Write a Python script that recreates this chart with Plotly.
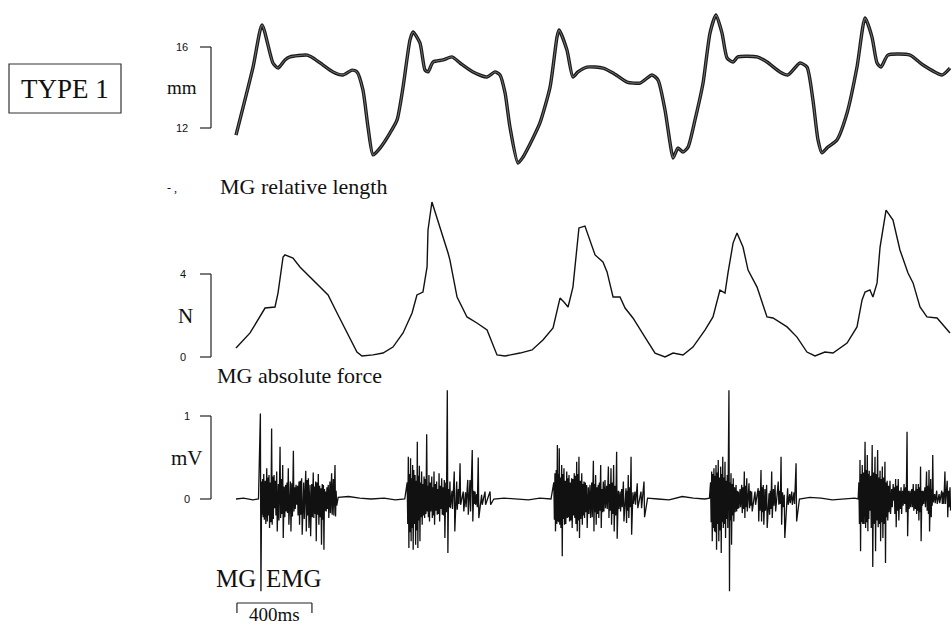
import plotly.graph_objects as go

# ---------------- data (time in ms, t=0 at trace start) ----------------
len_t = [0, 91, 139, 197, 224, 261, 288, 379, 411, 464, 517, 571, 619, 645, 677, 704, 731, 768, 821, 859,
         891, 928, 944, 981, 1008, 1024, 1051, 1104, 1152, 1195, 1264, 1339, 1381, 1408, 1435, 1461, 1504,
         1531, 1579, 1621, 1675, 1712, 1723, 1765, 1797, 1824, 1872, 1957, 2011, 2085, 2155, 2219, 2251,
         2288, 2315, 2331, 2357, 2384, 2411, 2448, 2491, 2528, 2560, 2592, 2619, 2651, 2677, 2779, 2832,
         2901, 2944, 3008, 3045, 3077, 3104, 3125, 3157, 3205, 3259, 3312, 3355, 3392, 3419, 3440, 3477,
         3595, 3664, 3765, 3808]
len_mm = [11.65, 15.01, 17.09, 15.21, 14.96, 15.36, 15.51, 15.60, 15.46, 15.11, 14.77, 14.62, 14.86, 14.77,
          13.88, 12.05, 10.67, 11.01, 11.75, 12.40, 14.02, 16.35, 16.74, 16.20, 14.86, 14.77, 15.26, 15.36,
          15.51, 15.21, 14.77, 14.52, 14.77, 14.62, 13.73, 12.05, 10.27, 10.57, 11.41, 12.25, 14.02, 16.49,
          16.84, 15.85, 14.52, 14.77, 15.01, 14.96, 14.72, 14.27, 14.22, 14.62, 14.37, 12.89, 11.26, 10.52,
          11.01, 10.81, 11.06, 12.40, 14.22, 16.69, 17.58, 16.69, 15.46, 15.26, 15.51, 15.51, 15.26, 14.77,
          14.62, 15.21, 15.01, 13.38, 11.41, 10.77, 11.06, 11.41, 12.74, 15.01, 17.43, 16.49, 15.21, 15.01,
          15.60, 15.60, 15.11, 14.62, 14.96]

force_t = [0, 75, 155, 208, 224, 251, 261, 304, 341, 395, 464, 491, 539, 592, 645, 672, 731, 784, 837, 891,
           939, 965, 997, 1019, 1024, 1045, 1088, 1131, 1141, 1179, 1232, 1285, 1339, 1392, 1435, 1515, 1579,
           1637, 1691, 1712, 1728, 1749, 1771, 1797, 1829, 1861, 1915, 1957, 1979, 2011, 2048, 2075, 2117,
           2181, 2235, 2288, 2331, 2384, 2437, 2501, 2544, 2581, 2608, 2624, 2651, 2672, 2704, 2731, 2779,
           2832, 2864, 2939, 2992, 3045, 3088, 3141, 3184, 3259, 3312, 3339, 3355, 3381, 3397, 3419, 3435,
           3467, 3504, 3541, 3584, 3611, 3648, 3685, 3739, 3808]
force_n = [0.43, 1.16, 2.36, 2.41, 3.08, 4.82, 4.92, 4.77, 4.34, 3.86, 3.23, 2.99, 2.12, 1.16, 0.24, 0.05,
           0.10, 0.19, 0.48, 1.16, 2.12, 2.99, 3.13, 4.34, 6.12, 7.47, 6.27, 5.01, 4.67, 2.89, 1.93, 1.64,
           1.30, 0.10, 0.05, 0.19, 0.34, 0.82, 1.40, 2.27, 2.84, 2.65, 2.41, 3.37, 6.22, 6.31, 4.92, 4.58,
           4.10, 2.89, 2.89, 2.36, 1.88, 0.96, 0.19, 0.00, 0.19, 0.10, 0.48, 1.30, 1.93, 3.23, 3.08, 4.05,
           5.49, 5.98, 5.30, 4.19, 3.37, 1.93, 1.88, 1.45, 0.96, 0.24, 0.05, 0.24, 0.19, 0.67, 1.45, 2.75,
           3.13, 3.23, 2.89, 3.57, 5.30, 7.08, 6.60, 5.16, 4.05, 3.57, 2.41, 1.93, 1.88, 1.16]

# EMG: large spikes (time, positive peak, negative peak) in mV
emg_spike_t = [130, 137, 148, 164, 176, 190, 203, 217, 235, 249, 265, 279, 290, 306, 320, 336, 350, 372, 386,
               395, 412, 425, 439, 453, 466, 478, 492, 510, 528,
               919, 931, 942, 955, 967, 978, 990, 1003, 1017, 1029, 1044, 1056, 1070, 1083, 1097, 1111, 1127,
               1141, 1164, 1177, 1195, 1212, 1236, 1248, 1260, 1275, 1292, 1310, 1328, 1355,
               1701, 1714, 1724, 1737, 1749, 1764, 1776, 1790, 1804, 1817, 1829, 1844, 1856, 1870, 1888, 1906,
               1918, 1932, 1945, 1959, 1968, 1986, 2000, 2014, 2030, 2048, 2066, 2080, 2092, 2107, 2128, 2140,
               2160, 2176,
               2537, 2549, 2560, 2572, 2585, 2596, 2608, 2620, 2629, 2640, 2652, 2667, 2679, 2697, 2711, 2724,
               2736, 2750, 2768, 2785, 2800, 2812, 2830, 2843, 2857, 2875, 2892, 2907, 2924, 2942, 2964, 2987,
               3328, 3340, 3355, 3367, 3377, 3393, 3408, 3422, 3435, 3447, 3461, 3473, 3488, 3505, 3518, 3532,
               3547, 3563, 3579, 3595, 3612, 3627, 3639, 3651, 3665, 3683, 3696, 3705, 3716, 3737, 3764, 3781,
               3793, 3808]
emg_spike_up = [1.03, 0.21, 0.30, 0.37, 0.29, 0.85, 0.29, 0.33, 0.63, 0.41, 0.17, 0.37, 0.21, 0.58, 0.17,
                0.21, 0.25, 0.34, 0.25, 0.17, 0.32, 0.21, 0.30, 0.13, 0.17, 0.09, 0.17, 0.31, 0.41,
                0.51, 0.49, 0.41, 0.29, 0.69, 0.40, 0.33, 0.27, 0.78, 0.29, 0.27, 0.33, 0.21, 0.31, 0.25, 0.23,
                1.31, 0.21, 0.33, 0.21, 0.43, 0.09, 0.23, 0.23, 0.59, 0.09, 0.50, 0.05, 0.09, 0.09,
                0.31, 0.65, 0.61, 0.41, 0.37, 0.33, 0.29, 0.25, 0.31, 0.45, 0.51, 0.31, 0.21, 0.17, 0.17, 0.46,
                0.29, 0.17, 0.41, 0.21, 0.23, 0.39, 0.37, 0.41, 0.57, 0.09, 0.21, 0.13, 0.29, 0.51, 0.09, 0.19,
                0.09, 0.21,
                0.33, 0.37, 0.41, 0.47, 0.39, 0.51, 0.45, 0.29, 1.31, 0.31, 0.25, 0.17, 0.09, 0.17, 0.33, 0.25,
                0.19, 0.09, 0.09, 0.13, 0.35, 0.17, 0.17, 0.07, 0.33, 0.17, 0.21, 0.51, 0.05, 0.13, 0.09, 0.43,
                0.47, 0.41, 0.69, 0.53, 0.34, 0.65, 0.51, 0.59, 0.34, 0.39, 0.45, 0.22, 0.22, 0.18, 0.24, 0.24,
                0.14, 0.18, 0.81, 0.10, 0.18, 0.18, 0.18, 0.39, 0.10, 0.33, 0.35, 0.24, 0.53, 0.10, 0.10, 0.33,
                0.22, 0.14]
emg_spike_down = [-1.11, -0.19, -0.25, -0.27, -0.35, -0.31, -0.11, -0.39, -0.23, -0.47, -0.15, -0.31, -0.39,
                  -0.15, -0.07, -0.31, -0.43, -0.39, -0.35, -0.45, -0.23, -0.51, -0.31, -0.55, -0.61, -0.15,
                  -0.23, -0.19, -0.21,
                  -0.59, -0.51, -0.61, -0.55, -0.59, -0.51, -0.31, -0.23, -0.15, -0.27, -0.23, -0.31, -0.19,
                  -0.27, -0.19, -0.47, -0.65, -0.11, -0.39, -0.13, -0.07, -0.15, -0.19, -0.15, -0.27, -0.07,
                  -0.23, -0.07, -0.07, -0.07,
                  -0.39, -0.27, -0.31, -0.69, -0.31, -0.23, -0.27, -0.35, -0.23, -0.39, -0.47, -0.31, -0.23,
                  -0.35, -0.23, -0.39, -0.31, -0.23, -0.35, -0.15, -0.11, -0.23, -0.31, -0.39, -0.48, -0.15,
                  -0.27, -0.29, -0.23, -0.43, -0.07, -0.11, -0.11, -0.22,
                  -0.51, -0.39, -0.61, -0.51, -0.65, -0.35, -0.47, -0.35, -1.11, -0.55, -0.27, -0.15, -0.11,
                  -0.17, -0.23, -0.15, -0.11, -0.15, -0.07, -0.27, -0.27, -0.31, -0.35, -0.19, -0.23, -0.15,
                  -0.07, -0.31, -0.47, -0.07, -0.07, -0.27,
                  -0.63, -0.30, -0.35, -0.39, -0.14, -0.82, -0.63, -0.34, -0.51, -0.47, -0.77, -0.26, -0.18,
                  -0.02, -0.34, -0.26, -0.18, -0.06, -0.45, -0.10, -0.14, -0.18, -0.26, -0.51, -0.06, -0.14,
                  -0.39, -0.22, -0.04, -0.06, -0.06, -0.06, -0.22, -0.14]

# EMG: dense small activity inside the bursts
emg_core_t = [142, 156, 170, 183, 196, 210, 226, 242, 257, 272, 298, 313, 328, 343, 361, 379, 404, 418, 432,
              446, 460, 472, 485, 501, 519, 534,
              913, 925, 936, 948, 961, 972, 984, 996, 1010, 1023, 1036, 1050, 1063, 1077, 1090, 1104, 1119,
              1134, 1152, 1186, 1224, 1268, 1284,
              1695, 1708, 1719, 1730, 1743, 1756, 1770, 1783, 1797, 1810, 1823, 1836, 1850, 1863, 1879, 1897,
              1912, 1925, 1938, 1952, 1977, 1993, 2007, 2022, 2039, 2057, 2086, 2100, 2117,
              2531, 2543, 2554, 2566, 2578, 2590, 2602, 2614, 2634, 2646, 2659, 2673, 2688, 2704, 2717, 2743,
              2792, 2806, 2821, 2850, 2866, 2900, 2915, 2953, 2976,
              3322, 3334, 3347, 3361, 3372, 3385, 3400, 3415, 3428, 3441, 3454, 3467, 3480, 3497, 3511, 3525,
              3540, 3555, 3571, 3587, 3604, 3620, 3633, 3645, 3658, 3674, 3690, 3710, 3726, 3750, 3772, 3800]
emg_core_up = [0.24, 0.22, 0.26, 0.20, 0.27, 0.22, 0.18, 0.24, 0.15, 0.20, 0.19, 0.14, 0.16, 0.22, 0.20, 0.23,
               0.18, 0.15, 0.20, 0.16, 0.18, 0.12, 0.14, 0.21, 0.24, 0.10,
               0.20, 0.30, 0.25, 0.35, 0.22, 0.28, 0.20, 0.18, 0.24, 0.16, 0.20, 0.14, 0.18, 0.12, 0.16, 0.14,
               0.20, 0.12, 0.10, 0.12, 0.08, 0.10, 0.06,
               0.20, 0.35, 0.30, 0.26, 0.30, 0.22, 0.25, 0.20, 0.24, 0.28, 0.30, 0.22, 0.18, 0.20, 0.14, 0.20,
               0.18, 0.14, 0.20, 0.12, 0.16, 0.18, 0.20, 0.16, 0.10, 0.12, 0.10, 0.14, 0.08,
               0.20, 0.30, 0.28, 0.32, 0.26, 0.30, 0.26, 0.22, 0.20, 0.18, 0.14, 0.10, 0.12, 0.14, 0.16, 0.10,
               0.10, 0.14, 0.12, 0.10, 0.12, 0.10, 0.08, 0.06, 0.08,
               0.20, 0.30, 0.32, 0.35, 0.30, 0.28, 0.32, 0.30, 0.26, 0.24, 0.26, 0.20, 0.16, 0.12, 0.14, 0.16,
               0.10, 0.10, 0.14, 0.10, 0.12, 0.10, 0.12, 0.14, 0.10, 0.14, 0.16, 0.12, 0.06, 0.06, 0.08, 0.10]
emg_core_down = [-0.22, -0.30, -0.20, -0.28, -0.24, -0.20, -0.26, -0.18, -0.22, -0.17, -0.21, -0.12, -0.20,
                 -0.19, -0.24, -0.20, -0.22, -0.18, -0.19, -0.22, -0.25, -0.14, -0.12, -0.17, -0.20, -0.08,
                 -0.30, -0.40, -0.35, -0.30, -0.38, -0.26, -0.22, -0.20, -0.18, -0.22, -0.15, -0.20, -0.14,
                 -0.18, -0.12, -0.20, -0.16, -0.10, -0.12, -0.06, -0.10, -0.06, -0.10,
                 -0.25, -0.30, -0.28, -0.35, -0.24, -0.30, -0.22, -0.26, -0.20, -0.30, -0.26, -0.24, -0.20,
                 -0.16, -0.18, -0.22, -0.16, -0.18, -0.14, -0.16, -0.12, -0.14, -0.18, -0.20, -0.12, -0.10,
                 -0.14, -0.10, -0.06,
                 -0.28, -0.35, -0.40, -0.30, -0.38, -0.28, -0.30, -0.24, -0.26, -0.20, -0.16, -0.12, -0.10,
                 -0.12, -0.10, -0.08, -0.14, -0.16, -0.14, -0.12, -0.08, -0.06, -0.10, -0.05, -0.06,
                 -0.30, -0.28, -0.30, -0.28, -0.24, -0.35, -0.30, -0.26, -0.30, -0.28, -0.30, -0.22, -0.16,
                 -0.10, -0.18, -0.14, -0.12, -0.08, -0.16, -0.12, -0.10, -0.12, -0.14, -0.16, -0.08, -0.10,
                 -0.18, -0.08, -0.05, -0.05, -0.06, -0.10]

emg_quiet_t = [0, 40, 90, 120, 545, 600, 660, 720, 790, 850, 900, 1375, 1430, 1500, 1560, 1620, 1680,
               2195, 2250, 2310, 2380, 2440, 2500, 2525, 3005, 3060, 3120, 3180, 3240, 3300, 3318]
emg_quiet_v = [0.00, 0.01, -0.01, 0.00, 0.02, 0.03, 0.01, 0.00, 0.01, -0.01, 0.00, 0.00, 0.01, 0.00, -0.01,
               0.01, 0.00, 0.01, 0.00, -0.01, 0.03, 0.01, 0.00, 0.01, 0.00, 0.02, 0.01, -0.01, 0.00, 0.01, 0.00]

len_ticks = [12, 16]
force_ticks = [0, 4]
emg_ticks = [0, 1]
scale_bar_ms = [5, 405]
scale_label = "400ms"

# ---------------- build EMG zigzag from spike tables ----------------
pts = [(t, v) for t, v in zip(emg_quiet_t, emg_quiet_v)]
for tl, ul, dl in ((emg_spike_t, emg_spike_up, emg_spike_down), (emg_core_t, emg_core_up, emg_core_down)):
    for t, u, d in zip(tl, ul, dl):
        pts.append((t, u))
        pts.append((t + 3, d))
pts.sort(key=lambda p: p[0])
emg_t = [p[0] for p in pts]
emg_v = [p[1] for p in pts]

# ---------------- figure ----------------
W, H = 951, 627
MS_PER_PX = 400 / 75.0
X0_PX = 236


def px2t(px):
    return (px - X0_PX) * MS_PER_PX


fig = go.Figure()
fig.add_trace(go.Scatter(x=len_t, y=len_mm, mode="lines", yaxis="y",
                         line=dict(color="#1a1a1a", width=3.4, shape="spline", smoothing=0.6),
                         hoverinfo="skip", showlegend=False))
fig.add_trace(go.Scatter(x=len_t, y=len_mm, mode="lines", yaxis="y",
                         line=dict(color="#9a9a9a", width=0.7, shape="spline", smoothing=0.6),
                         hoverinfo="skip", showlegend=False))
fig.add_trace(go.Scatter(x=force_t, y=force_n, mode="lines", yaxis="y2",
                         line=dict(color="#111", width=1.4),
                         hoverinfo="skip", showlegend=False))
fig.add_trace(go.Scatter(x=emg_t, y=emg_v, mode="lines", yaxis="y3",
                         line=dict(color="#111", width=1.3),
                         hoverinfo="skip", showlegend=False))

hidden = dict(visible=False, fixedrange=True)
fig.update_layout(
    width=W, height=H, margin=dict(l=0, r=0, t=0, b=0),
    paper_bgcolor="white", plot_bgcolor="white",
    xaxis=dict(range=[px2t(0), px2t(W)], domain=[0, 1], **hidden),
    yaxis=dict(range=[16 - (H - 47) / 20.25, 16 + 47 / 20.25], domain=[0, 1], **hidden),
    yaxis2=dict(range=[-(H - 357) / 20.75, 357 / 20.75], domain=[0, 1], overlaying="y", **hidden),
    yaxis3=dict(range=[-(H - 499) / 83.0, 499 / 83.0], domain=[0, 1], overlaying="y", **hidden),
    font=dict(family="Liberation Serif, Times New Roman, serif", color="#111"),
)

shapes = []
annots = []


def label(x, y, text, size, xref="paper", yref="paper", xanchor="center", family=None):
    f = dict(size=size)
    if family:
        f["family"] = family
    annots.append(dict(x=x, xref=xref, y=y, yref=yref, text=text, showarrow=False,
                       xanchor=xanchor, yanchor="middle", font=f))


bx, tx0 = px2t(211), px2t(200)
for yref, ticks, lab_px in (("y", len_ticks, 182), ("y2", force_ticks, 183), ("y3", emg_ticks, 187)):
    shapes.append(dict(type="line", xref="x", yref=yref, x0=bx, x1=bx, y0=ticks[0], y1=ticks[1],
                       line=dict(color="#222", width=1.2)))
    for tv in ticks:
        shapes.append(dict(type="line", xref="x", yref=yref, x0=tx0, x1=bx, y0=tv, y1=tv,
                           line=dict(color="#222", width=1.2)))
        label(lab_px / W, tv, str(tv), 11, yref=yref, family="Liberation Sans, Arial, sans-serif")

# unit labels
label(182 / W, sum(len_ticks) / 2, "mm", 19, yref="y")
label(185 / W, sum(force_ticks) / 2, "N", 21, yref="y2")
label(187 / W, sum(emg_ticks) / 2, "mV", 21, yref="y3")

# trace titles
label(218 / W, 1 - 186 / H, "MG relative length", 22, xanchor="left")
label(215 / W, 1 - 376 / H, "MG absolute force", 22, xanchor="left")
label(214 / W, 1 - 578 / H, "MG", 25, xanchor="left")
label(264 / W, 1 - 578 / H, "EMG", 25, xanchor="left")

# stray scan mark near the first label
label(172 / W, 1 - 188 / H, "- ,", 12)

# TYPE 1 box
shapes.append(dict(type="rect", xref="paper", yref="paper", x0=9 / W, x1=121 / W,
                   y0=1 - 113 / H, y1=1 - 64 / H, line=dict(color="#333", width=1.2)))
label(65 / W, 1 - 89 / H, "TYPE 1", 27)

# scale bar (time)
sb_y = (499 - 603) / 83.0
sb_y2 = (499 - 613) / 83.0
shapes.append(dict(type="line", xref="x", yref="y3", x0=scale_bar_ms[0], x1=scale_bar_ms[1],
                   y0=sb_y, y1=sb_y, line=dict(color="#222", width=1.2)))
for xv in scale_bar_ms:
    shapes.append(dict(type="line", xref="x", yref="y3", x0=xv, x1=xv, y0=sb_y, y1=sb_y2,
                       line=dict(color="#222", width=1.2)))
label(sum(scale_bar_ms) / 2, (499 - 614) / 83.0, scale_label, 19, xref="x", yref="y3")

fig.update_layout(shapes=shapes, annotations=annots)
fig.write_html("out.html", config={"displayModeBar": False},
               post_script="document.body.style.margin='0px';")
